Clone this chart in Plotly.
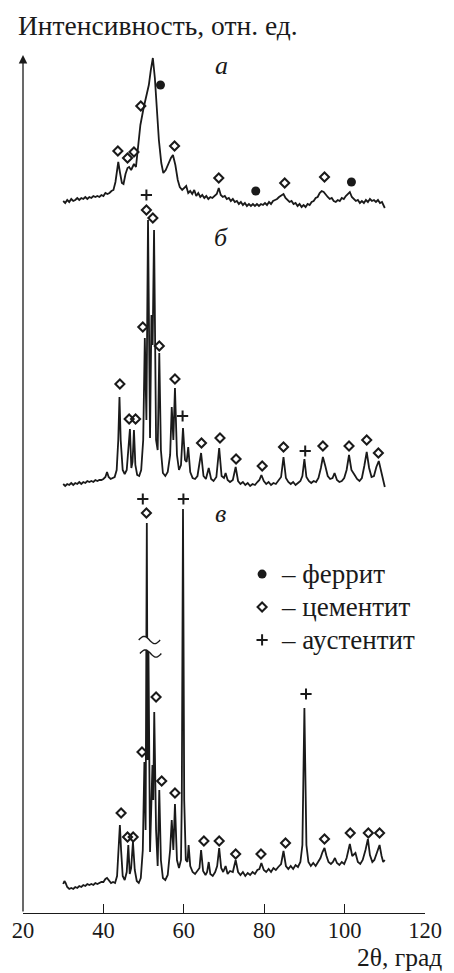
import math
import plotly.graph_objects as go

# ---------------- data (2θ, intensity in rel. units) ----------------
A_THETA = [30.0, 30.5, 31.0, 31.5, 32.0, 32.5, 33.0, 33.5, 34.0, 34.5, 35.0, 35.5, 36.0, 36.5, 37.0, 37.5,
           38.0, 38.5, 39.0, 39.5, 40.0, 40.5, 41.0, 41.5, 42.0, 42.5, 43.0, 43.4, 43.7, 44.1, 44.6, 45.0,
           45.5, 46.0, 46.4, 46.9, 47.6, 48.1, 48.6, 49.2, 50.0, 50.7, 51.3, 51.8, 52.3, 52.8, 53.3, 53.8,
           54.4, 54.9, 55.5, 56.2, 56.8, 57.3, 57.9, 58.5, 59.0, 59.6, 60.1, 60.6, 61.1, 61.6, 62.1, 62.6,
           63.1, 63.6, 64.1, 64.6, 65.1, 65.6, 66.1, 66.6, 67.1, 67.6, 68.2, 68.7, 69.2, 69.7, 70.2, 70.7,
           71.2, 71.7, 72.2, 72.7, 73.2, 73.7, 74.2, 74.7, 75.2, 75.7, 76.2, 76.7, 77.2, 77.7, 78.2, 78.7,
           79.2, 79.7, 80.2, 80.7, 81.2, 81.7, 82.2, 82.7, 83.2, 83.7, 84.3, 84.8, 85.3, 85.8, 86.3, 86.8,
           87.3, 87.8, 88.3, 88.8, 89.3, 89.8, 90.3, 90.8, 91.3, 91.8, 92.3, 92.8, 93.3, 93.8, 94.3, 94.8,
           95.3, 95.8, 96.3, 96.8, 97.3, 97.8, 98.3, 98.8, 99.3, 99.8, 100.3, 100.8, 101.3, 101.8, 102.3,
           102.8, 103.3, 103.8, 104.3, 104.8, 105.3, 105.8, 106.3, 106.8, 107.3, 107.8, 108.3, 108.8, 109.3,
           109.7, 110.0]
A_INT = [-1, -3, 0, -2, 1, -1, 0, 2, 0, 2, 1, 3, 1, 3, 2, 4,
         3, 4, 3, 5, 4, 7, 6, 7, 9, 10, 18, 30, 38, 28, 17, 16,
         26, 32, 33, 30, 36, 33, 50, 75, 92, 105, 115, 130, 142, 122, 92, 60,
         37, 27, 30, 37, 42, 45, 35, 20, 13, 10, 12, 14, 7, 9, 6, 10,
         4, 7, 3, 5, 2, 4, 1, 3, 2, 4, 6, 12, 5, 3, 4, 1,
         2, -1, 1, -2, -1, -4, -2, -5, -3, -6, -4, -6, -4, -6, -4, -6,
         -4, -5, -3, -5, -2, -4, -1, 0, 1, 3, 5, 6, 2, 0, -2, -1,
         -4, -3, -6, -4, -7, -5, -7, -4, -5, -2, -1, 2, 3, 7, 9, 8,
         5, 3, 1, 2, -1, -2, 0, -1, 2, 1, 4, 6, 8, 3, 1,
         -1, 0, -3, -1, -3, 0, -2, 1, -1, 0, -2, 0, -3, -2,
         -5, -8]

B_THETA = [30.0, 30.5, 31.0, 31.5, 32.0, 32.5, 33.0, 33.5, 34.0, 34.5, 35.0, 35.5, 36.0, 36.5, 37.0, 37.5,
           38.0, 38.5, 39.0, 39.5, 40.0, 40.5, 40.9, 41.3, 41.8, 42.3, 42.8, 43.3, 43.7, 44.0, 44.3, 44.8,
           45.3, 45.8, 46.2, 46.6, 46.95, 47.25, 47.6, 47.95, 48.4, 48.9, 49.4, 49.9, 50.3, 50.7, 51.1, 51.6,
           51.95, 52.25, 52.6, 53.1, 53.5, 53.9, 54.3, 54.8, 55.4, 56.0, 56.6, 57.0, 57.4, 57.8, 58.3, 58.8,
           59.3, 59.8, 60.3, 60.7, 61.1, 61.6, 62.2, 62.8, 63.4, 64.3, 64.9, 65.5, 66.2, 66.8, 67.4, 68.1,
           68.8, 69.4, 70.0, 70.4, 70.9, 71.5, 72.2, 72.9, 73.5, 74.1, 74.7, 75.3, 75.9, 76.5, 77.1, 77.7,
           78.3, 78.8, 79.3, 79.9, 80.5, 81.1, 81.7, 82.3, 82.9, 83.5, 84.2, 84.8, 85.4, 86.0, 86.6, 87.2,
           87.8, 88.4, 89.0, 89.5, 90.0, 90.5, 91.1, 91.7, 92.3, 92.9, 93.5, 94.1, 94.6, 95.2, 95.8, 96.4,
           97.0, 97.5, 98.1, 98.7, 99.3, 99.9, 100.5, 101.1, 101.7, 102.5, 103.1, 103.7, 104.3, 104.9, 105.5,
           106.1, 106.7, 107.3, 107.9, 108.5, 109.0, 109.5, 110.0]
B_INT = [-1, -3, -1, -2, 0, -2, 0, -1, 1, -1, 1, 0, 2, 1, 2, 1,
         3, 2, 3, 3, 4, 6, 11, 6, 4, 5, 6, 13, 43, 86, 43, 13,
         9, 13, 33, 54, 15, 21, 53, 18, 8, 7, 13, 43, 145, 63, 263, 45,
         168, 138, 253, 43, 33, 130, 33, 10, 7, 11, 28, 76, 43, 95, 28, 13,
         18, 55, 23, 21, 36, 11, 5, 4, 7, 30, 7, 4, 15, 4, 2, 6,
         35, 7, 5, 10, 3, 1, 3, 16, 2, -1, 1, -2, 0, -3, -1, -2,
         1, 3, 8, 2, -1, 1, -2, 0, -1, 2, 6, 26, 5, 1, -1, 1,
         -2, 0, 2, 7, 24, 6, 2, 0, 2, 1, 5, 15, 26, 17, 7, 4,
         5, 10, 3, 1, 2, 5, 13, 28, 13, 8, 4, 2, 5, 17, 31,
         15, 6, 7, 16, 22, 13, 3, -4]

V_THETA = [30.0, 30.3, 30.6, 31.0, 31.5, 32.0, 32.5, 33.0, 33.5, 34.0, 34.5, 35.0, 35.5, 36.0, 36.5, 37.0,
           37.5, 38.0, 38.5, 39.0, 39.5, 40.0, 40.5, 40.9, 41.4, 41.9, 42.4, 42.9, 43.4, 43.8, 44.1, 44.4,
           44.8, 45.3, 45.8, 46.2, 46.55, 46.9, 47.35, 47.8, 48.3, 48.8, 49.3, 49.8, 50.2, 50.5, 50.8, 51.0,
           51.2, 51.6, 52.2, 52.4, 52.65, 53.1, 53.5, 53.9, 54.3, 54.8, 55.4, 56.0, 56.6, 57.0, 57.4, 57.8,
           58.3, 58.8, 59.3, 59.5, 59.8, 60.1, 60.5, 60.9, 61.2, 61.6, 62.2, 62.8, 63.4, 63.9, 64.3, 64.8,
           65.4, 65.8, 66.2, 66.6, 67.2, 67.8, 68.3, 68.8, 69.3, 69.8, 70.4, 70.9, 71.5, 72.2, 72.9, 73.5,
           74.1, 74.7, 75.3, 75.9, 76.5, 77.1, 77.7, 78.3, 78.8, 79.3, 79.9, 80.5, 81.1, 81.7, 82.3, 82.9,
           83.5, 84.2, 84.8, 85.4, 86.0, 86.6, 87.2, 87.8, 88.4, 89.0, 89.5, 90.0, 90.5, 91.0, 91.6, 92.2,
           92.8, 93.4, 94.0, 94.5, 95.0, 95.5, 96.0, 96.6, 97.1, 97.6, 98.1, 98.7, 99.3, 99.9, 100.5, 101.3,
           101.9, 102.7, 103.3, 103.9, 104.5, 105.2, 105.8, 106.3, 106.9, 107.4, 108.0, 108.7, 109.2, 109.6,
           110.0]
V_INT = [2, 5, 3, -1, -3, -2, -3, -1, -2, 0, -1, 1, 0, 2, 1, 2,
         1, 3, 2, 3, 4, 4, 7, 8, 5, 3, 4, 3, 10, 36, 61, 36,
         10, 6, 14, 41, 12, 18, 44, 16, 5, 3, 8, 36, 124, 56, 363, 126,
         240, 34, 121, 86, 174, 56, 20, 96, 26, 8, 6, 11, 36, 66, 36, 82,
         26, 18, 26, 86, 377, 86, 26, 24, 41, 20, 14, 12, 15, 18, 36, 15,
         11, 14, 24, 12, 10, 14, 20, 38, 18, 14, 20, 12, 15, 14, 26, 14,
         11, 14, 10, 13, 11, 14, 12, 16, 17, 23, 16, 14, 17, 14, 18, 16,
         19, 22, 35, 20, 17, 20, 17, 21, 19, 24, 41, 178, 41, 24, 20, 23,
         20, 24, 28, 34, 38, 30, 24, 22, 24, 28, 23, 21, 24, 22, 28, 42,
         30, 33, 24, 22, 26, 36, 47, 31, 24, 26, 34, 41, 30, 24,
         26]

# vertical shift of each pattern (rel. units)
OFFSETS = {"а": 713, "б": 430, "в": 27}

# phase reflections: (2θ, height above the pattern's baseline)
FERRITE = {"а": [(54.2, 115), (77.9, 9), (101.7, 18)], "б": [], "в": []}
CEMENTITE = {
    "а": [(52.3, 158), (49.3, 94), (43.6, 49), (46.0, 42), (47.6, 48), (57.7, 54), (68.7, 22),
          (85.1, 17), (95.0, 23)],
    "б": [(50.7, 273), (52.3, 265), (49.8, 156), (53.9, 137), (44.1, 99), (46.4, 64), (48.0, 64),
          (57.8, 104), (64.4, 40), (69.0, 45), (73.0, 24), (79.5, 17), (84.8, 36), (94.6, 37),
          (101.1, 37), (105.5, 43), (108.4, 30)],
    "в": [(50.7, 373), (53.1, 189), (49.6, 134), (54.5, 105), (57.8, 93), (44.4, 73), (46.0, 49),
          (47.4, 49), (65.0, 45), (68.8, 45), (72.9, 32), (79.2, 32), (85.3, 43), (95.0, 47),
          (101.4, 53), (105.9, 53), (108.7, 53)],
}
AUSTENITE = {"а": [], "б": [(50.7, 288), (59.7, 67), (90.2, 32)],
             "в": [(49.8, 387), (59.9, 387), (90.4, 192)]}

PANEL_LABELS = [("а", 69.3, 848), ("б", 69.2, 676), ("в", 69.2, 400)]
X_TICKS = [20, 40, 60, 80, 100, 120]
LEGEND_NAMES = ["феррит", "цементит", "аустентит"]

# ---------------- figure ----------------
INK = "#1a1a1a"
FONT = "Liberation Serif, Times New Roman, DejaVu Serif, serif"
fig = go.Figure()

curves = [("а", A_THETA, A_INT), ("б", B_THETA, B_INT), ("в", V_THETA, V_INT)]
for name, th, it in curves:
    fig.add_trace(go.Scatter(x=th, y=[v + OFFSETS[name] for v in it], mode="lines",
                             line=dict(color=INK, width=1.8), showlegend=False, hoverinfo="skip"))


def phase_trace(dct, label, marker):
    xs, ys = [], []
    for k, pts in dct.items():
        for t, h in pts:
            xs.append(t)
            ys.append(h + OFFSETS[k])
    return go.Scatter(x=xs, y=ys, mode="markers",
                      name=f'<span style="font-size:27px">– {label}</span>',
                      marker=marker, cliponaxis=False)


fig.add_trace(phase_trace(FERRITE, LEGEND_NAMES[0], dict(symbol="circle", size=9, color=INK)))
fig.add_trace(phase_trace(CEMENTITE, LEGEND_NAMES[1],
                          dict(symbol="diamond-open", size=7, color=INK, line=dict(width=2, color=INK))))
fig.add_trace(phase_trace(AUSTENITE, LEGEND_NAMES[2],
                          dict(symbol="cross-thin", size=8, color=INK, line=dict(width=2, color=INK))))

# axis break symbol on the truncated peak of pattern "в"
PX = 1 / 4.135  # 2θ per pixel
def tilde(cx, cy, half=11, amp=3.6, n=24):
    pts = []
    for i in range(n + 1):
        t = -1 + 2 * i / n
        pts.append((cx + t * half * PX, cy - amp * math.sin(math.pi * t)))
    return pts

up = tilde(51.45, 273)
lo = tilde(51.75, 259.5)
mask = "M " + " L ".join(f"{x},{y}" for x, y in up) + " L " + " L ".join(f"{x},{y}" for x, y in lo[::-1]) + " Z"
fig.add_shape(type="path", path=mask, fillcolor="white", line=dict(width=0), layer="above",
              xref="x", yref="y")
for pts in (up, lo):
    fig.add_shape(type="path", path="M " + " L ".join(f"{x},{y}" for x, y in pts),
                  line=dict(color=INK, width=1.4), layer="above", xref="x", yref="y")

annotations = []
for txt, x, y in PANEL_LABELS:
    annotations.append(dict(text=f"<i>{txt}</i>", x=x, y=y, xref="x", yref="y", showarrow=False,
                            font=dict(family=FONT, size=26, color=INK)))
annotations.append(dict(text="Интенсивность, отн. ед.", xref="paper", yref="paper", x=-0.017, y=1.034,
                        xanchor="left", yanchor="middle", showarrow=False,
                        font=dict(family=FONT, size=27.5, color=INK)))
annotations.append(dict(text="2θ, град", xref="paper", yref="paper", x=1.045, y=-0.0695,
                        xanchor="right", yanchor="bottom", showarrow=False, borderpad=0,
                        font=dict(family=FONT, size=25.5, color=INK)))
# vertical axis with arrow
annotations.append(dict(text="", x=20, y=858, ax=20, ay=0, xref="x", yref="y", axref="x", ayref="y",
                        showarrow=True, arrowhead=2, arrowsize=1.3, arrowwidth=1.3, arrowcolor=INK,
                        standoff=0))

fig.update_layout(
    width=454, height=973,
    margin=dict(l=21, r=20, t=55, b=60),
    paper_bgcolor="white", plot_bgcolor="white",
    font=dict(family=FONT, color=INK),
    annotations=annotations,
    legend=dict(x=0.545, y=0.42, xanchor="left", yanchor="top", bgcolor="rgba(0,0,0,0)",
                font=dict(family=FONT, size=23, color=INK), itemwidth=30),
    xaxis=dict(range=[20, 120], tickvals=X_TICKS, showline=True, linewidth=1.3, linecolor=INK,
               ticks="inside", ticklen=9, tickwidth=1.3, tickcolor=INK, showgrid=False, zeroline=False,
               ticklabelstandoff=-3, tickfont=dict(family=FONT, size=22.5, color=INK)),
    yaxis=dict(range=[0, 858], showline=False, showticklabels=False, ticks="", showgrid=False,
               zeroline=False),
)

fig.write_html("out.html", config={"displayModeBar": False},
               post_script="document.body.style.margin='0px';")
